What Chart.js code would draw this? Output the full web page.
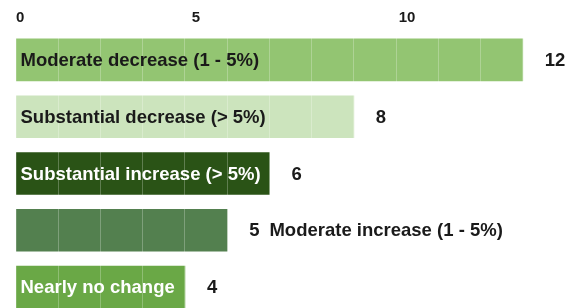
<!DOCTYPE html>
<html>
<head>
<meta charset="utf-8">
<script src="https://cdn.jsdelivr.net/npm/chart.js@4"></script>
<style>
html, body { margin: 0; padding: 0; background: #fff; }
#divGraphChange { width: 576px; height: 308px; }
</style>
</head>
<body>
<div id="divGraphChange"><canvas id="canvGraphChange"></canvas></div>
<script>
var categories = ['Moderate decrease (1 - 5%)', 'Substantial decrease (> 5%)', 'Substantial increase (> 5%)', 'Moderate increase (1 - 5%)', 'Nearly no change'];
var counts = [12, 8, 6, 5, 4];
var barColors = ['#93c572', '#cce4bd', '#2a5316', '#53804f', '#6aa846'];
var tickValues = [0, 5, 10];

var FONT = '"Liberation Sans", Arial, sans-serif';
var TEXT_DARK = '#1a1a1a';

function isDarkColor(hex) {
    var r = parseInt(hex.substr(1, 2), 16);
    var g = parseInt(hex.substr(3, 2), 16);
    var b = parseInt(hex.substr(5, 2), 16);
    return (0.299 * r + 0.587 * g + 0.114 * b) < 160;
}

// tick labels sit a bit left of their gridline in the original
function tickText(value) {
    if (tickValues.indexOf(value) < 0) return '';
    if (value === 0) return '  0';
    return String(value) + '               ';
}

var barLabels = {
    id: 'barLabels',
    afterDraw: function (chart) {
        var ctx = chart.ctx;
        var meta = chart.getDatasetMeta(0);
        ctx.save();
        ctx.font = 'bold 18.5px ' + FONT;
        ctx.textBaseline = 'middle';
        ctx.textAlign = 'left';
        meta.data.forEach(function (bar, i) {
            var valueText = String(counts[i]);
            var name = categories[i];
            var left = bar.base, right = bar.x;
            var valueX = right + 22;
            var textY = bar.y + 1;

            ctx.fillStyle = TEXT_DARK;
            ctx.fillText(valueText, valueX, textY);

            if (ctx.measureText(name).width + 8 <= right - left) {
                ctx.fillStyle = isDarkColor(barColors[i]) ? '#ffffff' : TEXT_DARK;
                ctx.fillText(name, left + 4, textY);
            } else {
                ctx.fillStyle = TEXT_DARK;
                ctx.fillText(name, valueX + ctx.measureText(valueText).width + 10, textY);
            }
        });
        ctx.restore();
    }
};

var points = counts.map(function (v, i) {
    return {x: v, y: i};
});

var ctxChange = document.getElementById('canvGraphChange').getContext('2d');

var _chart = new Chart(ctxChange, {
    type: 'bar',
    data: {
        datasets: [{
            data: points,
            backgroundColor: barColors,
            borderWidth: 0,
            barThickness: 42
        }]
    },
    options: {
        indexAxis: 'y',
        responsive: true,
        maintainAspectRatio: false,
        animation: false,
        layout: {
            padding: {left: 16, right: 11, top: 5, bottom: 0}
        },
        plugins: {
            legend: {display: false},
            tooltip: {enabled: false}
        },
        scales: {
            x: {
                type: 'linear',
                position: 'top',
                min: 0,
                max: 13,
                offset: false,
                border: {display: false},
                grid: {
                    z: 1,
                    offset: false,
                    drawTicks: false,
                    lineWidth: 1,
                    color: function (c) {
                        if (!c.tick || c.tick.value === 0 || c.tick.value === 13) return 'rgba(0,0,0,0)';
                        return 'rgba(255,255,255,0.25)';
                    }
                },
                ticks: {
                    stepSize: 1,
                    autoSkip: false,
                    maxRotation: 0,
                    padding: 4,
                    color: TEXT_DARK,
                    font: {family: FONT, size: 15, weight: 'bold'},
                    callback: tickText
                }
            },
            y: {
                type: 'linear',
                display: false,
                offset: false,
                reverse: true,
                min: -0.51,
                max: 4.37,
                grid: {offset: false}
            }
        }
    },
    plugins: [barLabels]
});
</script>
</body>
</html>
